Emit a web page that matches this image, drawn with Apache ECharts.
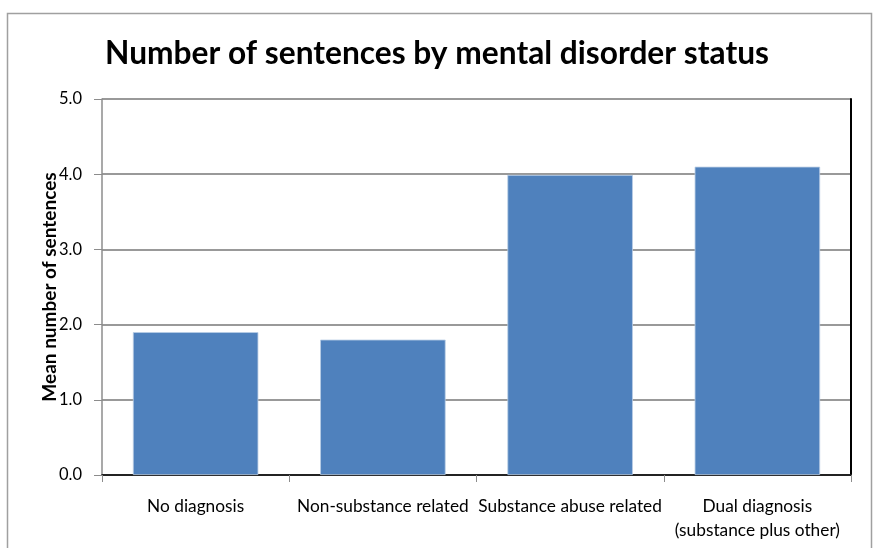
<!DOCTYPE html>
<html><head><meta charset="utf-8">
<script src="https://cdn.jsdelivr.net/npm/echarts@6/dist/echarts.min.js"></script>
<style>html,body{margin:0;padding:0;background:#fff}#c{width:874px;height:548px}</style>
</head><body><div id="c"></div>
<script>
var titleText = 'Number of sentences by mental disorder status';
var categories = ['No diagnosis', 'Non-substance related', 'Substance abuse related', 'Dual diagnosis\n(substance plus other)'];
var values = [1.9, 1.8, 3.99, 4.1];
var yAxisName = 'Mean number of sentences';
var yMin = 0, yMax = 5, yStep = 1;

var chart = echarts.init(document.getElementById('c'), null, {renderer: 'canvas'});
var font = 'Lato, "Open Sans", sans-serif';
chart.setOption({
  animation: false,
  backgroundColor: '#fff',
  title: {
    text: titleText, left: 'center', top: 33,
    textStyle: {fontFamily: font, fontWeight: 'bold', fontSize: 31.7, color: '#000'}
  },
  graphic: [{
    type: 'rect', left: 5, top: 11, silent: true,
    shape: {width: 864, height: 560},
    style: {fill: 'none', stroke: '#a0a0a0', lineWidth: 1.5}
  }],
  grid: {left: 102, right: 23, top: 99, bottom: 73, containLabel: false},
  xAxis: [{
    type: 'category', data: categories,
    axisLine: {lineStyle: {color: '#8c8c8c', width: 1.5}},
    axisTick: {show: true, length: 7, lineStyle: {color: '#8c8c8c'}},
    axisLabel: {color: '#000', fontFamily: font, fontSize: 17.3, margin: 19, lineHeight: 24, interval: 0}
  }, {
    type: 'category', data: categories, position: 'top',
    axisLine: {show: true, lineStyle: {color: '#000', width: 1.5}},
    axisTick: {show: false}, axisLabel: {show: false}
  }],
  yAxis: [{
    type: 'value', min: yMin, max: yMax, interval: yStep,
    name: yAxisName, nameLocation: 'middle', nameGap: 43, nameRotate: 90,
    nameMoveOverlap: false,
    nameTextStyle: {fontFamily: font, fontWeight: 'bold', fontSize: 19, color: '#000'},
    axisLine: {show: true, lineStyle: {color: '#8c8c8c', width: 1.5}},
    axisTick: {show: true, length: 8, lineStyle: {color: '#8c8c8c'}},
    axisLabel: {color: '#000', fontFamily: font, fontSize: 16.5, margin: 20,
      formatter: function (v) { return v.toFixed(1); }},
    splitLine: {show: true, lineStyle: {color: '#999', width: 2}}
  }, {
    type: 'value', min: yMin, max: yMax, interval: yStep, position: 'right',
    axisLine: {show: true, lineStyle: {color: '#000', width: 2}},
    axisTick: {show: false}, axisLabel: {show: false}, splitLine: {show: false}
  }],
  series: [{
    type: 'bar', data: values, barWidth: '67%',
    itemStyle: {color: '#4F81BD', borderColor: '#B9CDE5', borderWidth: 0.8}
  }]
});
</script></body></html>
